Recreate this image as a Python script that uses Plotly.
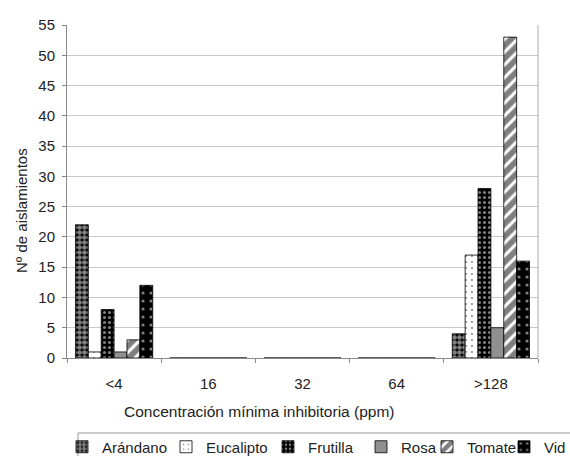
import plotly.graph_objects as go

categories = ["<4", "16", "32", "64", ">128"]
series_names = ["Arándano", "Eucalipto", "Frutilla", "Rosa", "Tomate", "Vid"]
arandano = [22, 0, 0, 0, 4]
eucalipto = [1, 0, 0, 0, 17]
frutilla = [8, 0, 0, 0, 28]
rosa = [1, 0, 0, 0, 5]
tomate = [3, 0, 0, 0, 53]
vid = [12, 0, 0, 0, 16]
y_ticks = list(range(0, 56, 5))

values = [arandano, eucalipto, frutilla, rosa, tomate, vid]

styles = [
    dict(color="black", pattern=dict(shape=".", fgcolor="white", bgcolor="black", size=5, solidity=0.7)),
    dict(color="white", pattern=dict(shape=".", fgcolor="black", bgcolor="white", size=6, solidity=0.08)),
    dict(color="black", pattern=dict(shape=".", fgcolor="white", bgcolor="black", size=5, solidity=0.3)),
    dict(color="#909090", pattern=dict(shape="")),
    dict(color="white", pattern=dict(shape="/", fgcolor="black", bgcolor="white", size=9, solidity=0.65)),
    dict(color="black", pattern=dict(shape=".", fgcolor="white", bgcolor="black", size=8, solidity=0.12)),
]

W, H = 570, 456
L, R, T, B = 67, 32, 25, 98
pw, ph = W - L - R, H - T - B


def px_x(x):
    return (x - L) / pw


def px_y(y):
    return (H - B - y) / ph


# legend text start positions (pixels)
legend_text_x = [102, 206, 308, 401, 467, 544]

font = "Liberation Sans, Arial, sans-serif"
fig = go.Figure()
layout_legends = {}
for i, (name, vals, st) in enumerate(zip(series_names, values, styles)):
    lg = "legend" if i == 0 else f"legend{i + 1}"
    fig.add_trace(go.Bar(
        x=categories, y=vals, name=name, legend=lg,
        marker=dict(color=st["color"], pattern=st["pattern"],
                    line=dict(color="black", width=0.8)),
    ))
    layout_legends[lg] = dict(
        x=px_x(legend_text_x[i] - 40), xanchor="left",
        y=px_y(447), yanchor="middle", orientation="h",
        bgcolor="rgba(0,0,0,0)", borderwidth=0, font=dict(size=15, color="#222"),
        itemwidth=30,
    )

fig.update_layout(
    width=W, height=H,
    margin=dict(l=L, r=R, t=T, b=B, autoexpand=False),
    paper_bgcolor="white", plot_bgcolor="white",
    barmode="group", bargap=0.18, bargroupgap=0,
    font=dict(family=font, size=14, color="#222"),
    showlegend=True,
    xaxis=dict(type="category", showline=True, linecolor="#888", linewidth=1,
               ticks="outside", tickson="boundaries", ticklen=4, tickcolor="#888",
               tickfont=dict(size=15), ticklabelstandoff=12),
    yaxis=dict(range=[0, 55], tickvals=y_ticks, showline=True, linecolor="#888",
               linewidth=1, ticks="outside", ticklen=4, tickcolor="#888",
               showgrid=True, gridcolor="#c8c8c8", gridwidth=1, zeroline=False,
               tickfont=dict(size=15), ticklabelstandoff=4),
    annotations=[
        dict(text="Nº de aislamientos", x=px_x(21), y=px_y(211), xref="paper", yref="paper",
             showarrow=False, textangle=-90, font=dict(size=15),
             xanchor="center", yanchor="middle"),
        dict(text="Concentración mínima inhibitoria (ppm)", x=px_x(259), y=px_y(411),
             xref="paper", yref="paper", showarrow=False, font=dict(size=15.5),
             xanchor="center", yanchor="middle"),
    ],
    **layout_legends,
)
# right border of plot area
fig.add_shape(type="line", xref="paper", yref="paper", x0=1, x1=1, y0=0, y1=1,
              line=dict(color="#aaa", width=1))
# legend frame
fig.add_shape(type="rect", xref="paper", yref="paper",
              x0=px_x(78), x1=px_x(600), y0=px_y(433), y1=px_y(470),
              line=dict(color="#999", width=1), fillcolor="rgba(0,0,0,0)")

fig.write_html("out.html", config={"displayModeBar": False},
               post_script="document.body.style.margin='0';document.body.style.overflow='hidden';")
